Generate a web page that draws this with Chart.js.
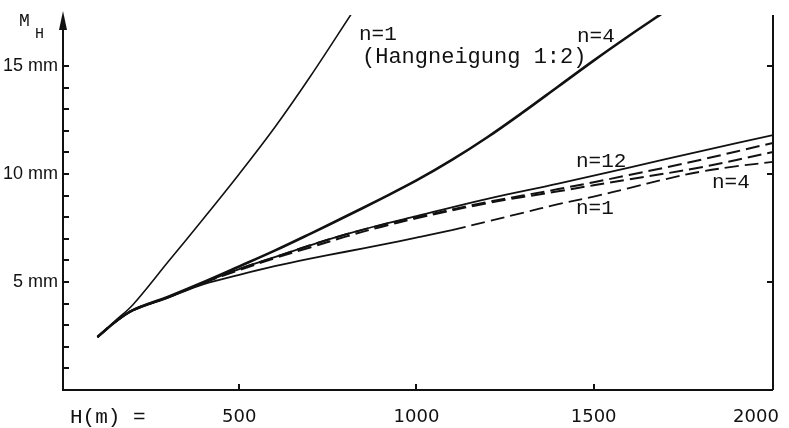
<!DOCTYPE html>
<html>
<head>
<meta charset="utf-8">
<script src="https://cdn.jsdelivr.net/npm/chart.js@4.4.1/dist/chart.umd.min.js"></script>
<style>
  html, body { margin: 0; padding: 0; background: #fff; }
  #wrap { width: 789px; height: 428px; }
</style>
</head>
<body>
<div id="wrap"><canvas id="mhChart" width="789" height="428"></canvas></div>
<script>
// Mittlerer Hoehenfehler M_H (mm) ueber der Flughoehe H (m)

// n=1 (Hangneigung 1:2), duenn, steil
const hSteilN1 = [100, 150, 200, 300, 400, 500, 600, 700, 816];
const mSteilN1 = [2.45, 3.2, 3.95, 5.95, 7.95, 10.0, 12.15, 14.5, 17.4];

// n=4, dick, steil
const hSteilN4 = [100, 150, 200, 300, 400, 500, 600, 700, 800, 900, 1000, 1100, 1200, 1300, 1400, 1500, 1600, 1690];
const mSteilN4 = [2.45, 3.15, 3.7, 4.32, 5.0, 5.72, 6.45, 7.23, 8.03, 8.85, 9.7, 10.65, 11.7, 12.85, 14.05, 15.25, 16.4, 17.4];

// n=12, duenn, durchgezogen
const hFlachN12 = [100, 150, 200, 300, 400, 500, 600, 700, 800, 900, 1000, 1200, 1400, 1600, 1800, 2006];
const mFlachN12 = [2.45, 3.15, 3.7, 4.3, 4.98, 5.6, 6.15, 6.7, 7.2, 7.65, 8.05, 8.85, 9.55, 10.3, 11.05, 11.8];

// gestrichelt, knapp unter n=12
const hStrichA = [100, 150, 200, 300, 400, 500, 600, 700, 800, 900, 1000, 1200, 1400, 1600, 1800, 2006];
const mStrichA = [2.45, 3.15, 3.7, 4.3, 4.98, 5.6, 6.15, 6.7, 7.2, 7.63, 8.0, 8.7, 9.3, 9.95, 10.65, 11.44];

// gestrichelt, n=4
const hStrichN4 = [100, 150, 200, 300, 400, 500, 600, 700, 800, 900, 1000, 1200, 1400, 1600, 1800, 2006];
const mStrichN4 = [2.45, 3.15, 3.7, 4.3, 4.96, 5.55, 6.1, 6.6, 7.1, 7.55, 7.95, 8.65, 9.2, 9.75, 10.3, 11.02];

// n=1, unten: bis ~1100 m durchgezogen, dann gestrichelt
const hUntenN1 = [100, 150, 200, 300, 400, 500, 600, 700, 800, 900, 1000, 1100, 1200, 1300, 1400, 1500, 1600, 1700, 1800, 1900, 2006];
const mUntenN1 = [2.45, 3.15, 3.68, 4.28, 4.9, 5.33, 5.73, 6.08, 6.4, 6.72, 7.05, 7.4, 7.8, 8.2, 8.6, 8.95, 9.35, 9.75, 10.1, 10.35, 10.56];

const yTickMinor = [1, 2, 3, 4, 5, 6, 7, 8, 9, 10, 11, 12, 13, 14, 15];
const yTickLabels = [5, 10, 15];
const xTickValues = [500, 1000, 1500, 2000];

const pts = (hs, ms) => hs.map((h, i) => ({ x: h, y: ms[i] }));
const DASH = [14, 6];

const achsen = {
  id: 'achsen',
  afterDraw(chart) {
    const { ctx, chartArea, scales: { x, y } } = chart;
    const left = chartArea.left, right = chartArea.right, bottom = chartArea.bottom, top = chartArea.top;
    ctx.save();
    ctx.strokeStyle = '#111';
    ctx.fillStyle = '#111';
    ctx.lineWidth = 2;

    // Achsenlinien
    ctx.beginPath();
    ctx.moveTo(left + 1, 26); ctx.lineTo(left + 1, bottom);
    ctx.lineTo(right, bottom);
    ctx.moveTo(right, top); ctx.lineTo(right, bottom);
    ctx.stroke();
    // Pfeil
    ctx.beginPath();
    ctx.moveTo(left + 1, 11); ctx.lineTo(left - 3, 30); ctx.lineTo(left + 5, 30); ctx.closePath();
    ctx.fill();

    // Striche links (nach innen)
    ctx.beginPath();
    yTickMinor.forEach(v => {
      const py = Math.round(y.getPixelForValue(v));
      ctx.moveTo(left, py); ctx.lineTo(left + 7, py);
    });
    // Striche rechts
    yTickLabels.forEach(v => {
      const py = Math.round(y.getPixelForValue(v));
      ctx.moveTo(right - 6, py); ctx.lineTo(right, py);
    });
    // Striche unten
    xTickValues.slice(0, 3).forEach(v => {
      const px = Math.round(x.getPixelForValue(v));
      ctx.moveTo(px, bottom); ctx.lineTo(px, bottom - 6);
    });
    ctx.stroke();

    // Beschriftung y
    ctx.font = '18px "Liberation Sans"';
    ctx.textAlign = 'right';
    ctx.textBaseline = 'middle';
    yTickLabels.forEach(v => {
      ctx.fillText(v + ' mm', left - 4, y.getPixelForValue(v));
    });

    // Beschriftung x
    ctx.font = '18px "DejaVu Sans"';
    xTickValues.forEach((v, i) => {
      const px = x.getPixelForValue(v);
      if (i === xTickValues.length - 1) { ctx.textAlign = 'right'; ctx.fillText(String(v), px + 8, 417); }
      else { ctx.textAlign = 'center'; ctx.fillText(String(v), px, 417); }
    });
    ctx.textAlign = 'left';
    ctx.font = '21px "Liberation Mono"';
    ctx.fillText('H(m) =', 70, 417);

    // M_H
    ctx.textBaseline = 'alphabetic';
    ctx.font = '18px "Liberation Mono"';
    ctx.fillText('M', 19, 26);
    ctx.font = '15px "Liberation Mono"';
    ctx.fillText('H', 35, 38);

    // Kurvenbeschriftungen
    ctx.font = '21px "Liberation Mono"';
    ctx.fillText('n=1', 359, 40);
    ctx.font = '22px "Liberation Mono"';
    ctx.fillText('(Hangneigung 1:2)', 362, 63);
    ctx.font = '21px "Liberation Mono"';
    ctx.fillText('n=4', 577, 42);
    ctx.fillText('n=12', 576, 167);
    ctx.fillText('n=4', 712, 188);
    ctx.fillText('n=1', 576, 214);
    ctx.restore();
  }
};

const base = { pointRadius: 0, borderColor: '#111', fill: false, tension: 0.35 };

new Chart(document.getElementById('mhChart'), {
  type: 'line',
  data: {
    datasets: [
      Object.assign({}, base, { label: 'n=1 (Hangneigung 1:2)', data: pts(hSteilN1, mSteilN1), borderWidth: 1.6 }),
      Object.assign({}, base, { label: 'n=4', data: pts(hSteilN4, mSteilN4), borderWidth: 2.6 }),
      Object.assign({}, base, { label: 'n=12', data: pts(hFlachN12, mFlachN12), borderWidth: 1.8 }),
      Object.assign({}, base, { label: 'gestrichelt', data: pts(hStrichA, mStrichA), borderWidth: 2, borderDash: DASH }),
      Object.assign({}, base, { label: 'n=4 gestrichelt', data: pts(hStrichN4, mStrichN4), borderWidth: 2, borderDash: DASH }),
      Object.assign({}, base, {
        label: 'n=1', data: pts(hUntenN1, mUntenN1), borderWidth: 1.8,
        segment: { borderDash: c => c.p0.parsed.x >= 1100 ? DASH : undefined }
      })
    ]
  },
  options: {
    responsive: false,
    animation: false,
    layout: { padding: { left: 62, right: 16, top: 15, bottom: 38 } },
    plugins: { legend: { display: false }, tooltip: { enabled: false } },
    scales: {
      x: { type: 'linear', min: 0, max: 2006, display: false },
      y: { min: 0, max: 17.36, display: false }
    }
  },
  plugins: [achsen]
});
</script>
</body>
</html>
